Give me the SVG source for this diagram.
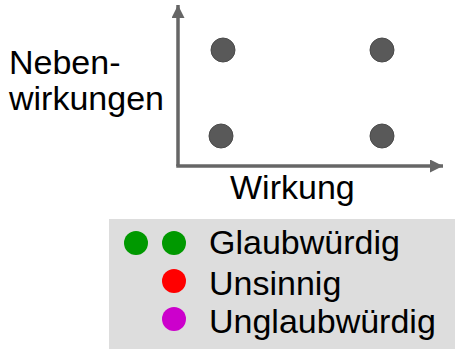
<svg xmlns="http://www.w3.org/2000/svg" width="455" height="349" viewBox="0 0 455 349">
  <style>
    .lbl { font-family: "Liberation Sans", Arial, sans-serif; font-size: 34px; fill: #000; }
    .axis { stroke: #666; stroke-width: 3.5; fill: none; }
    .pt { fill: #595959; stroke: #4a4a4a; stroke-width: 1; }
  </style>
  <defs>
    <marker id="arrow" markerWidth="13" markerHeight="13" refX="10" refY="5" orient="auto" markerUnits="userSpaceOnUse" viewBox="0 0 10 10">
      <path d="M0,0 L10,5 L0,10 Z" fill="#666"/>
    </marker>
  </defs>

  <!-- axes -->
  <g id="connectors">
    <path class="axis" d="M178,166 L178,5" marker-end="url(#arrow)"/>
    <path class="axis" d="M176.25,166 L443,166" marker-end="url(#arrow)"/>
  </g>

  <!-- axis labels -->
  <g id="label-y">
    <text class="lbl" x="9" y="74">Neben-</text>
    <text class="lbl" x="9" y="110">wirkungen</text>
  </g>
  <g id="label-x">
    <text class="lbl" x="230" y="199">Wirkung</text>
  </g>

  <!-- quadrant points -->
  <g id="point-tl"><circle class="pt" cx="223" cy="50" r="12"/></g>
  <g id="point-tr"><circle class="pt" cx="382" cy="50" r="12"/></g>
  <g id="point-bl"><circle class="pt" cx="221" cy="136" r="12"/></g>
  <g id="point-br"><circle class="pt" cx="382" cy="136" r="12"/></g>

  <!-- legend -->
  <g id="legend">
    <rect x="109" y="219" width="346" height="130" fill="#dddddd"/>
    <circle cx="136" cy="243" r="12" fill="#009900"/>
    <circle cx="174" cy="243" r="12" fill="#009900"/>
    <circle cx="174" cy="281" r="12" fill="#ff0000"/>
    <circle cx="174" cy="319" r="12" fill="#cc00cc"/>
    <text class="lbl" x="209" y="254">Glaubwürdig</text>
    <text class="lbl" x="209" y="295">Unsinnig</text>
    <text class="lbl" x="209" y="333">Unglaubwürdig</text>
  </g>
</svg>
